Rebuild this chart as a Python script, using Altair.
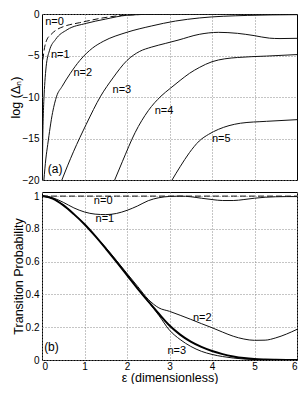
import altair as alt
import pandas as pd

FONT = "Liberation Sans"

# ---------------- panel (a): log(Delta_n) versus epsilon ----------------
a_eps_n0 = [0.02, 0.06, 0.11, 0.21, 0.32, 0.51, 0.88, 1.04, 1.41, 1.89, 2.35, 3.0, 4.0, 5.0, 6.0]
a_val_n0 = [-5.5, -4.05, -3.15, -2.48, -1.98, -1.51, -1.05, -0.87, -0.49, -0.17, -0.06, -0.01, 0.0, 0.0, 0.0]

a_eps_n1 = [0.007, 0.018, 0.034, 0.045, 0.068, 0.097, 0.174, 0.32, 0.59, 1.04, 1.49, 2.0, 2.57, 3.25, 4.0, 5.0, 6.0]
a_val_n1 = [-20.0, -15.1, -11.65, -10.25, -8.15, -6.37, -4.43, -3.06, -1.9, -1.13, -0.62, -0.15, -0.03, 0.0, 0.0, 0.0, 0.0]

a_eps_n2 = [0.045, 0.09, 0.135, 0.25, 0.345, 0.47, 0.66, 0.89, 1.19, 1.44, 2.0, 2.57, 3.14, 3.7, 4.83, 6.0]
a_val_n2 = [-20.0, -17.47, -15.72, -11.85, -9.9, -8.75, -7.2, -5.6, -4.1, -3.3, -2.2, -1.45, -0.85, -0.48, -0.17, -0.08]

a_eps_n3 = [0.467, 0.6, 0.74, 1.04, 1.38, 1.67, 2.0, 2.3, 2.57, 2.9, 3.2, 3.7, 4.15, 4.6, 4.99, 5.35, 5.6, 6.0]
a_val_n3 = [-20.0, -18.3, -16.6, -13.3, -9.9, -7.7, -5.6, -4.5, -4.0, -3.55, -3.15, -2.45, -2.21, -2.33, -2.6, -2.91, -2.96, -2.93]

a_eps_n4 = [1.71, 1.89, 2.19, 2.5, 2.8, 3.02, 3.25, 3.47, 3.7, 4.0, 4.3, 4.6, 5.28, 6.0]
a_val_n4 = [-20.0, -17.8, -14.3, -11.65, -9.9, -8.95, -8.0, -7.15, -6.45, -5.75, -5.4, -5.24, -5.07, -4.89]

a_eps_n5 = [3.06, 3.25, 3.47, 3.7, 3.92, 4.15, 4.4, 4.67, 5.28, 6.0]
a_val_n5 = [-20.0, -18.4, -16.7, -15.3, -14.5, -13.9, -13.45, -13.16, -12.93, -12.73]

a_lab_text = ["n=0", "n=1", "n=2", "n=3", "n=4", "n=5"]
a_lab_eps = [0.075, 0.21, 0.74, 1.66, 2.65, 4.0]
a_lab_val = [-1.0, -4.95, -7.05, -9.18, -11.65, -15.03]

# ---------------- panel (b): transition probability ----------------
b_eps = [0, 0.25, 0.5, 0.75, 1.0, 1.25, 1.5, 1.75, 2.0, 2.25, 2.5, 2.75, 3.0,
         3.25, 3.5, 3.75, 4.0, 4.25, 4.5, 4.75, 5.0, 5.25, 5.5, 5.75, 6.0]
b_n0 = [1.0] * 25
b_n1 = [1.0, 0.99, 0.962, 0.928, 0.903, 0.89, 0.887, 0.894, 0.913, 0.94, 0.972, 0.99, 0.998,
        1.0, 0.996, 0.987, 0.979, 0.973, 0.973, 0.979, 0.987, 0.993, 0.996, 0.997, 0.997]
b_n2 = [1.0, 0.985, 0.945, 0.89, 0.828, 0.757, 0.686, 0.608, 0.528, 0.449, 0.37, 0.318, 0.297,
        0.273, 0.248, 0.222, 0.197, 0.17, 0.145, 0.128, 0.12, 0.121, 0.135, 0.158, 0.187]
b_n3 = [1.0, 0.985, 0.945, 0.89, 0.828, 0.757, 0.68, 0.6, 0.518, 0.436, 0.358, 0.282, 0.21,
        0.155, 0.112, 0.08, 0.055, 0.036, 0.022, 0.012, 0.006, 0.003, 0.001, 0.0, 0.0]
b_n4 = [1.0, 0.985, 0.945, 0.89, 0.828, 0.757, 0.68, 0.6, 0.518, 0.436, 0.356, 0.272, 0.182,
        0.125, 0.083, 0.053, 0.034, 0.021, 0.012, 0.006, 0.003, 0.001, 0.0, 0.0, 0.0]

b_lab_text = ["n=0", "n=1", "n=2", "n=3"]
b_lab_eps = [1.22, 1.26, 3.55, 2.95]
b_lab_val = [0.97, 0.863, 0.258, 0.055]

panel_tag_text = ["(a)", "(b)"]
panel_tag_eps = [0.135, 0.05]
panel_tag_val = [-18.64, 0.081]


def long_frame(items):
    rows = []
    for name, xs, ys in items:
        for xv, yv in zip(xs, ys):
            rows.append({"series": name, "eps": xv, "val": yv})
    return pd.DataFrame(rows)


a_dashed = long_frame([("n=0", a_eps_n0, a_val_n0)])
a_solid = long_frame([("n=1", a_eps_n1, a_val_n1), ("n=2", a_eps_n2, a_val_n2),
                      ("n=3", a_eps_n3, a_val_n3), ("n=4", a_eps_n4, a_val_n4),
                      ("n=5", a_eps_n5, a_val_n5)])
a_labels = pd.DataFrame({"eps": a_lab_eps, "val": a_lab_val, "txt": a_lab_text})
a_tag = pd.DataFrame({"eps": [panel_tag_eps[0]], "val": [panel_tag_val[0]], "txt": [panel_tag_text[0]]})

b_dashed = long_frame([("n=0", b_eps, b_n0)])
b_solid = long_frame([("n=1", b_eps, b_n1), ("n=2", b_eps, b_n2), ("n=4", b_eps, b_n4)])
b_thick = long_frame([("n=3", b_eps, b_n3)])
b_labels = pd.DataFrame({"eps": b_lab_eps, "val": b_lab_val, "txt": b_lab_text})
b_tag = pd.DataFrame({"eps": [panel_tag_eps[1]], "val": [panel_tag_val[1]], "txt": [panel_tag_text[1]]})

W = 255
GRID = dict(grid=True, gridColor="#8a8a8a", gridDash=[1, 2], gridWidth=1)

xa = alt.X("eps:Q", scale=alt.Scale(domain=[0, 6], nice=False, zero=False),
           axis=alt.Axis(values=[1, 2, 3, 4, 5], labels=False, ticks=False, domain=False,
                         title=None, **GRID))
ya = alt.Y("val:Q", scale=alt.Scale(domain=[-20, 0], nice=False, zero=False),
           axis=alt.Axis(values=[-20, -15, -10, -5, 0], ticks=False, domain=False,
                         title="log (Δₙ)", labelPadding=3, titlePadding=0, **GRID))

xb = alt.X("eps:Q", scale=alt.Scale(domain=[0, 6], nice=False, zero=False),
           axis=alt.Axis(values=[0, 1, 2, 3, 4, 5, 6], format="d", ticks=False, domain=False,
                         title="ε (dimensionless)", labelPadding=1, titleY=11,
                         titleBaseline="top", **GRID))
yb = alt.Y("val:Q", scale=alt.Scale(domain=[0, 1.025], nice=False, zero=False),
           axis=alt.Axis(values=[0, 0.2, 0.4, 0.6, 0.8, 1.0], format="~g", ticks=False,
                         domain=False, title="Transition Probability", labelPadding=3,
                         titlePadding=0, **GRID))

line_kw = dict(color="#111111", strokeWidth=1, interpolate="monotone", clip=True)
text_kw = dict(align="left", baseline="middle", font=FONT, fontSize=11, color="black")

top = alt.layer(
    alt.Chart(a_solid).mark_line(**line_kw).encode(x=xa, y=ya, detail="series:N"),
    alt.Chart(a_dashed).mark_line(strokeDash=[6, 3], **line_kw).encode(x=xa, y=ya),
    alt.Chart(a_labels).mark_text(**text_kw).encode(x=xa, y=ya, text="txt:N"),
    alt.Chart(a_tag).mark_text(**{**text_kw, "fontSize": 12}).encode(x=xa, y=ya, text="txt:N"),
).properties(width=W, height=166)

bottom = alt.layer(
    alt.Chart(b_solid).mark_line(**line_kw).encode(x=xb, y=yb, detail="series:N"),
    alt.Chart(b_thick).mark_line(color="black", strokeWidth=2, interpolate="monotone", clip=True)
    .encode(x=xb, y=yb),
    alt.Chart(b_dashed).mark_line(strokeDash=[6, 3], **line_kw).encode(x=xb, y=yb),
    alt.Chart(b_labels).mark_text(**text_kw).encode(x=xb, y=yb, text="txt:N"),
    alt.Chart(b_tag).mark_text(**{**text_kw, "fontSize": 12}).encode(x=xb, y=yb, text="txt:N"),
).properties(width=W, height=168)

chart = (
    alt.vconcat(top, bottom, spacing=12, bounds="flush")
    .properties(padding={"left": 0, "top": 0, "right": 0, "bottom": 0})
    .configure(font=FONT)
    .configure_view(stroke="black", strokeWidth=1)
    .configure_axis(labelFont=FONT, labelFontSize=10, labelColor="black",
                    titleFont=FONT, titleFontSize=12.5, titleFontWeight="normal",
                    titleColor="black")
)

chart.save("out.html", embed_options={"renderer": "svg", "actions": False})
